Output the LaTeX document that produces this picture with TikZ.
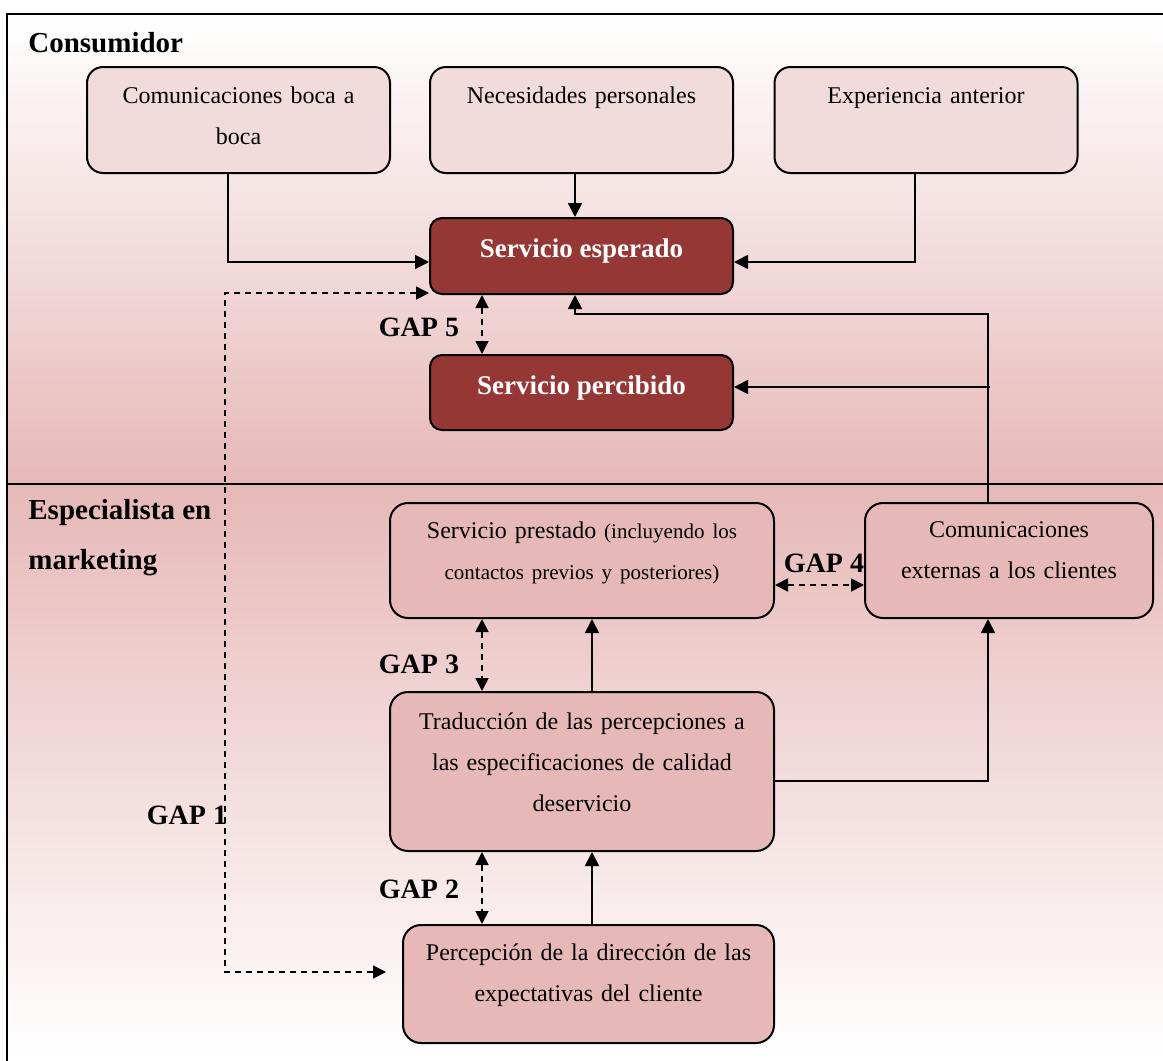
\documentclass[tikz,border=0pt]{standalone}
\usepackage{fontspec}
\setmainfont{Liberation Serif}
\usepackage{tikz}
\usetikzlibrary{arrows.meta}
\usetikzlibrary{positioning}
\definecolor{lightRose}{HTML}{F2DCDB}
\definecolor{midRose}{HTML}{E6B9B8}
\definecolor{darkRed}{HTML}{953735}
\tikzstyle{topBox} = [draw=black, line width=1pt, rounded corners=8pt, fill=lightRose, text width=143.5pt, inner xsep=4pt, inner ysep=0pt, align=center, text height=18pt, text depth=35pt, font=\fontsize{12}{20.5}\selectfont]
\tikzstyle{darkBox} = [draw=black, line width=1pt, rounded corners=6pt, fill=darkRed, text=white, minimum width=151.5pt, inner sep=0pt, text height=19.5pt, text depth=18.5pt, font=\fontsize{13.5}{16}\selectfont\bfseries]
\tikzstyle{lowBox} = [draw=black, line width=1pt, rounded corners=9pt, fill=midRose, inner xsep=4pt, inner ysep=0pt, align=center, font=\fontsize{12}{20.5}\selectfont]
\tikzstyle{arrow} = [line width=0.9pt, ->, >={Triangle[length=7pt,width=7pt]}]
\tikzstyle{gapArrow} = [line width=0.9pt, <->, >={Triangle[length=6.5pt,width=6.5pt]}, dash pattern=on 3pt off 2.5pt]
\tikzstyle{gapLabel} = [font=\fontsize{14}{16}\selectfont\bfseries, inner sep=0pt]
\tikzstyle{zoneLabel} = [font=\fontsize{14.5}{25}\selectfont\bfseries, align=left, inner sep=0pt, anchor=west]
\tikzstyle{frame} = [line width=1pt]

\begin{document}
\begin{tikzpicture}[x=0.5pt, y=-0.5pt]
\useasboundingbox (0,0) rectangle (1163,1061);
\shade [top color=white, bottom color=midRose] (7,14) rectangle (1163,484);
\shade [top color=midRose, bottom color=white] (7,484) rectangle (1163,1061);
\draw [frame] (1163,14) -- (7,14) -- (7,1061);
\draw [frame] (7,484) -- (1163,484);

\node (consumidor) [zoneLabel] at (28,43) {Consumidor};
\node (especialista) [zoneLabel] at (28,538) {Especialista en\\marketing};

\node (necesidades) [topBox] at (581.5,120) {Necesidades personales};
\node (boca) [topBox, left of = necesidades, node distance = 171.5pt] {Comunicaciones boca a\\boca};
\node (experiencia) [topBox, right of = necesidades, node distance = 172.25pt] {Experiencia anterior};
\node (esperado) [darkBox] at (581.5,256) {Servicio esperado};
\node (percibido) [darkBox, below of = esperado, node distance = 68.25pt, text depth = 18pt] {Servicio percibido};

\node (prestado) [lowBox, text width = 184pt, text height = 17.5pt, text depth = 40pt] at (582,560.5) {Servicio prestado {\fontsize{10.5}{20}\selectfont(incluyendo los\\contactos previos y posteriores)}};
\node (externas) [lowBox, right of = prestado, node distance = 213.5pt, text width = 136pt, text height = 17pt, text depth = 40.5pt] {Comunicaciones\\externas a los clientes};
\node (traduccion) [lowBox, below of = prestado, node distance = 105.5pt, text width = 184pt, text height = 18.5pt, text depth = 61pt] {Traducción de las percepciones a\\las especificaciones de calidad\\deservicio};
\node (percepcion) [lowBox, below of = traduccion, node distance = 106.25pt, xshift = 3.25pt, text width = 177.5pt, text height = 17.5pt, text depth = 41.5pt] {Percepción de la dirección de las\\expectativas del cliente};

\draw [arrow] ([xshift=-5.25pt]boca.south) |- ([yshift=-3pt]esperado.west);
\draw [arrow] ([xshift=-3.25pt]necesidades.south) -- ([xshift=-3.25pt]esperado.north);
\draw [arrow] ([xshift=-5.5pt]experiencia.south) |- ([yshift=-3pt]esperado.east);

\draw [gapArrow] ([yshift=-18.5pt]esperado.west) -- ++(-204,0) |- ([xshift=-8pt,yshift=6pt]percepcion.west);
\node (gap1) [gapLabel] at (187,815) {GAP 1};
\draw [gapArrow] ([xshift=-49.75pt]esperado.south) -- ([xshift=-49.75pt]percibido.north);
\node (gap5) [gapLabel] at (419,327) {GAP 5};

\coordinate (tap) at (990,387);
\draw [arrow] ([xshift=-10.5pt]externas.north) -- ++(0,-188) -| ([xshift=-3.25pt]esperado.south);
\draw [arrow] (tap) -- (tap -| percibido.east);

\draw [gapArrow] ([yshift=-12.25pt]prestado.east) -- ([yshift=-12.25pt]externas.west);
\node (gap4) [gapLabel] at (824,563) {GAP 4};
\draw [gapArrow] ([xshift=-50pt]prestado.south) -- ([xshift=-50pt]traduccion.north);
\node (gap3) [gapLabel] at (419,664) {GAP 3};
\draw [arrow] ([xshift=5pt]traduccion.north) -- ([xshift=5pt]prestado.south);
\draw [arrow] ([yshift=-4.75pt]traduccion.east) -| ([xshift=-10.5pt]externas.south);
\draw [gapArrow] ([xshift=-50pt]traduccion.south) -- ([xshift=-53.25pt]percepcion.north);
\node (gap2) [gapLabel] at (419,889) {GAP 2};
\draw [arrow] ([xshift=1.75pt]percepcion.north) -- ([xshift=5pt]traduccion.south);
\end{tikzpicture}
\end{document}
